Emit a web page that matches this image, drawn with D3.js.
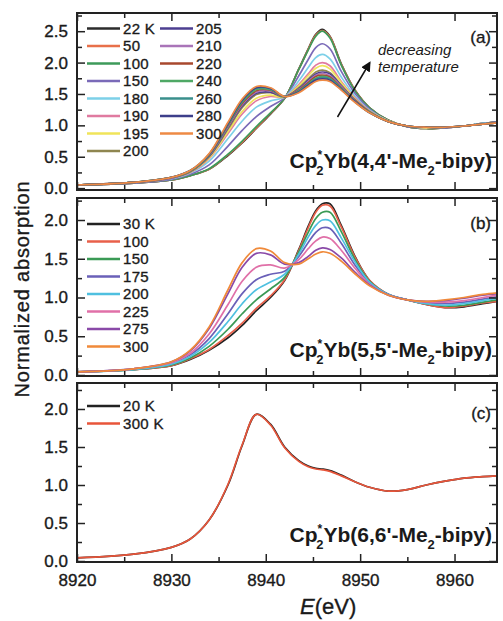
<!DOCTYPE html>
<html>
<head>
<meta charset="utf-8">
<script src="https://cdn.jsdelivr.net/npm/d3@7"></script>
<style>
  body { margin: 0; background: #fff; }
  text { font-family: "Liberation Sans", Arial, sans-serif; fill: #1a1a1a; stroke: #1a1a1a; stroke-width: 0.35px; }
</style>
</head>
<body>
<svg id="chart" width="503" height="621"></svg>
<script>
// energy grid (eV) shared by every curve
const energy = [8920, 8926, 8930, 8932, 8934, 8936, 8937.5, 8939, 8940.5, 8942, 8943.5, 8944.5, 8945.3,
  8946, 8946.8, 8948, 8949.5, 8951, 8953, 8955, 8957, 8959, 8961, 8963, 8964.5]

// (a) Cp*2Yb(4,4'-Me2-bipy)
const tempsA = ['22 K', '50', '100', '150', '180', '190', '195', '200', '205', '210', '220', '240', '260', '280', '300']
const seriesA = [
  [0.05, 0.08, 0.13, 0.20, 0.30, 0.52, 0.72, 0.95, 1.18, 1.43, 1.90, 2.22, 2.45, 2.53, 2.42, 1.98, 1.55, 1.28, 1.08, 0.98, 0.95, 0.96, 0.99, 1.03, 1.05],
  [0.05, 0.08, 0.13, 0.20, 0.30, 0.53, 0.73, 0.96, 1.19, 1.43, 1.89, 2.21, 2.44, 2.51, 2.41, 1.97, 1.55, 1.28, 1.08, 0.98, 0.95, 0.96, 0.99, 1.03, 1.05],
  [0.05, 0.08, 0.13, 0.20, 0.31, 0.54, 0.75, 0.98, 1.20, 1.43, 1.89, 2.20, 2.42, 2.50, 2.39, 1.96, 1.54, 1.28, 1.08, 0.98, 0.95, 0.96, 0.99, 1.03, 1.05],
  [0.05, 0.08, 0.14, 0.22, 0.37, 0.67, 0.92, 1.14, 1.30, 1.44, 1.79, 2.05, 2.24, 2.30, 2.22, 1.86, 1.50, 1.26, 1.07, 0.98, 0.96, 0.96, 0.99, 1.03, 1.05],
  [0.05, 0.09, 0.15, 0.24, 0.43, 0.79, 1.07, 1.29, 1.39, 1.45, 1.71, 1.92, 2.08, 2.13, 2.06, 1.77, 1.46, 1.24, 1.07, 0.99, 0.96, 0.97, 0.99, 1.03, 1.04],
  [0.05, 0.09, 0.16, 0.25, 0.47, 0.87, 1.18, 1.39, 1.46, 1.45, 1.65, 1.82, 1.96, 2.00, 1.95, 1.70, 1.43, 1.23, 1.07, 0.99, 0.96, 0.97, 0.99, 1.02, 1.04],
  [0.05, 0.09, 0.16, 0.26, 0.48, 0.90, 1.22, 1.43, 1.48, 1.45, 1.63, 1.79, 1.91, 1.95, 1.90, 1.68, 1.41, 1.22, 1.07, 0.99, 0.96, 0.97, 0.99, 1.02, 1.04],
  [0.05, 0.09, 0.16, 0.26, 0.50, 0.94, 1.28, 1.49, 1.52, 1.45, 1.60, 1.74, 1.85, 1.88, 1.84, 1.64, 1.40, 1.22, 1.06, 0.99, 0.97, 0.97, 0.99, 1.02, 1.04],
  [0.05, 0.09, 0.16, 0.27, 0.51, 0.97, 1.31, 1.51, 1.53, 1.46, 1.58, 1.72, 1.82, 1.85, 1.82, 1.63, 1.39, 1.21, 1.06, 0.99, 0.97, 0.97, 0.99, 1.02, 1.04],
  [0.05, 0.09, 0.16, 0.27, 0.52, 0.98, 1.33, 1.53, 1.55, 1.46, 1.57, 1.70, 1.80, 1.83, 1.79, 1.62, 1.38, 1.21, 1.06, 0.99, 0.97, 0.97, 0.99, 1.02, 1.04],
  [0.05, 0.09, 0.17, 0.27, 0.53, 1.00, 1.35, 1.55, 1.56, 1.46, 1.56, 1.68, 1.78, 1.80, 1.77, 1.60, 1.38, 1.21, 1.06, 0.99, 0.97, 0.97, 0.99, 1.02, 1.04],
  [0.05, 0.09, 0.17, 0.27, 0.53, 1.01, 1.37, 1.57, 1.57, 1.46, 1.55, 1.66, 1.75, 1.78, 1.75, 1.59, 1.37, 1.21, 1.06, 0.99, 0.97, 0.97, 0.99, 1.02, 1.04],
  [0.05, 0.09, 0.17, 0.28, 0.54, 1.02, 1.39, 1.59, 1.58, 1.46, 1.54, 1.65, 1.74, 1.76, 1.74, 1.58, 1.37, 1.20, 1.06, 0.99, 0.97, 0.97, 0.99, 1.02, 1.04],
  [0.05, 0.09, 0.17, 0.28, 0.54, 1.03, 1.40, 1.60, 1.59, 1.46, 1.53, 1.64, 1.72, 1.74, 1.72, 1.57, 1.37, 1.20, 1.06, 0.99, 0.97, 0.97, 0.99, 1.02, 1.04],
  [0.05, 0.09, 0.17, 0.28, 0.55, 1.05, 1.42, 1.62, 1.60, 1.46, 1.52, 1.62, 1.70, 1.72, 1.70, 1.56, 1.36, 1.20, 1.06, 0.99, 0.97, 0.97, 0.99, 1.02, 1.04]
]
const colorsA = ['#2b2b2b', '#e8704a', '#3d9a5a', '#7a6ab8', '#7dd0e8', '#e07aa0', '#f0e45a', '#8f8650',
  '#4d3f91', '#a974b8', '#a8482e', '#4fa865', '#3a8f8c', '#3d3f8a', '#ee8a44']

// (b) Cp*2Yb(5,5'-Me2-bipy)
const tempsB = ['30 K', '100', '150', '175', '200', '225', '275', '300']
const seriesB = [
  [0.04, 0.07, 0.12, 0.20, 0.32, 0.48, 0.64, 0.83, 1.00, 1.22, 1.62, 1.92, 2.12, 2.21, 2.21, 1.93, 1.52, 1.22, 1.04, 0.97, 0.91, 0.87, 0.88, 0.92, 0.95],
  [0.04, 0.07, 0.12, 0.21, 0.33, 0.51, 0.67, 0.86, 1.02, 1.23, 1.61, 1.90, 2.10, 2.19, 2.18, 1.91, 1.51, 1.22, 1.04, 0.97, 0.91, 0.87, 0.89, 0.93, 0.95],
  [0.04, 0.07, 0.13, 0.22, 0.37, 0.59, 0.79, 0.97, 1.11, 1.26, 1.59, 1.84, 2.02, 2.10, 2.10, 1.85, 1.48, 1.21, 1.04, 0.97, 0.92, 0.89, 0.90, 0.94, 0.97],
  [0.04, 0.08, 0.15, 0.26, 0.47, 0.79, 1.05, 1.23, 1.30, 1.34, 1.53, 1.71, 1.84, 1.90, 1.89, 1.70, 1.41, 1.19, 1.04, 0.97, 0.93, 0.92, 0.94, 0.98, 1.01],
  [0.04, 0.07, 0.14, 0.24, 0.42, 0.69, 0.92, 1.10, 1.20, 1.30, 1.56, 1.78, 1.93, 2.00, 1.99, 1.77, 1.45, 1.20, 1.04, 0.97, 0.92, 0.90, 0.92, 0.96, 0.99],
  [0.04, 0.08, 0.16, 0.28, 0.53, 0.91, 1.21, 1.39, 1.42, 1.38, 1.49, 1.63, 1.73, 1.78, 1.76, 1.61, 1.37, 1.17, 1.03, 0.97, 0.94, 0.94, 0.96, 1.00, 1.03],
  [0.04, 0.08, 0.17, 0.31, 0.60, 1.05, 1.39, 1.57, 1.55, 1.43, 1.45, 1.53, 1.61, 1.64, 1.62, 1.51, 1.32, 1.16, 1.03, 0.97, 0.95, 0.96, 0.99, 1.03, 1.05],
  [0.04, 0.08, 0.17, 0.32, 0.62, 1.10, 1.45, 1.63, 1.60, 1.45, 1.43, 1.50, 1.56, 1.59, 1.57, 1.47, 1.30, 1.15, 1.03, 0.97, 0.95, 0.97, 1.00, 1.04, 1.06]
]
const colorsB = ['#222222', '#e8604a', '#3a9a55', '#6a60b8', '#4fc0e0', '#e070a8', '#8a4aa8', '#f08a3a']

// (c) Cp*2Yb(6,6'-Me2-bipy)
const tempsC = ['20 K', '300 K']
const seriesC = [
  [0.04, 0.09, 0.18, 0.29, 0.54, 1.00, 1.52, 1.93, 1.80, 1.50, 1.32, 1.25, 1.22, 1.21, 1.19, 1.13, 1.04, 0.97, 0.92, 0.94, 1.00, 1.05, 1.09, 1.11, 1.12],
  [0.04, 0.09, 0.18, 0.29, 0.54, 1.01, 1.53, 1.93, 1.79, 1.49, 1.31, 1.24, 1.21, 1.20, 1.18, 1.12, 1.04, 0.97, 0.92, 0.94, 1.00, 1.05, 1.09, 1.11, 1.12]
]
const colorsC = ['#222222', '#e8553a']

const xMajor = [8920, 8930, 8940, 8950, 8960]
const xMinor = [8925, 8935, 8945, 8955]

const svg = d3.select('#chart')
const x = d3.scaleLinear().domain([8920, 8964.5]).range([77, 497])

const panels = [
  { top: 13, bottom: 190, domain: [-0.03, 2.79], yMajor: [0, 0.5, 1, 1.5, 2, 2.5], yMinor: [0.25, 0.75, 1.25, 1.75, 2.25, 2.75],
    temps: tempsA, series: seriesA, colors: colorsA, tag: '(a)', tagY: 43, name: "4,4'", nameY: 168, legendY: 28.5, legendRows: 8 },
  { top: 198, bottom: 376, domain: [-0.013, 2.284], yMajor: [0, 0.5, 1, 1.5, 2], yMinor: [0.25, 0.75, 1.25, 1.75, 2.25],
    temps: tempsB, series: seriesB, colors: colorsB, tag: '(b)', tagY: 229, name: "5,5'", nameY: 357, legendY: 224, legendRows: 8 },
  { top: 383, bottom: 562, domain: [-0.013, 2.342], yMajor: [0, 0.5, 1, 1.5, 2], yMinor: [0.25, 0.75, 1.25, 1.75, 2.25],
    temps: tempsC, series: seriesC, colors: colorsC, tag: '(c)', tagY: 419, name: "6,6'", nameY: 542, legendY: 406, legendRows: 8 }
]

const defs = svg.append('defs')
defs.append('marker')
  .attr('id', 'head')
  .attr('viewBox', '0 0 10 10')
  .attr('refX', 8).attr('refY', 5)
  .attr('markerWidth', 10).attr('markerHeight', 10)
  .attr('markerUnits', 'userSpaceOnUse')
  .attr('orient', 'auto')
  .append('path').attr('d', 'M0,0L10,5L0,10Z').attr('fill', '#111')

panels.forEach((p, i) => {
  const y = d3.scaleLinear().domain(p.domain).range([p.bottom, p.top])
  const g = svg.append('g')

  defs.append('clipPath').attr('id', 'clip' + i)
    .append('rect').attr('x', x.range()[0]).attr('y', p.top)
    .attr('width', x.range()[1] - x.range()[0]).attr('height', p.bottom - p.top)

  // curves
  const line = d3.line()
    .x((d, k) => x(energy[k]))
    .y(d => y(d))
    .curve(d3.curveCatmullRom.alpha(0.5))

  g.append('g').attr('clip-path', `url(#clip${i})`)
    .selectAll('path')
    .data(p.series)
    .join('path')
    .attr('d', line)
    .attr('fill', 'none')
    .attr('stroke', (d, k) => p.colors[k])
    .attr('stroke-width', 1.7)

  // ticks on all four sides, pointing in
  const tickStyle = (sel) => {
    sel.select('.domain').remove()
    sel.selectAll('line').attr('stroke', '#222').attr('stroke-width', 1.5)
  }
  g.append('g').attr('transform', `translate(0,${p.bottom})`)
    .call(d3.axisBottom(x).tickValues(xMajor).tickSize(-8).tickPadding(12)
      .tickFormat(i === 2 ? d3.format('d') : () => ''))
    .call(tickStyle)
  g.append('g').attr('transform', `translate(0,${p.bottom})`)
    .call(d3.axisBottom(x).tickValues(xMinor).tickSize(-5).tickFormat(''))
    .call(tickStyle)
  g.append('g').attr('transform', `translate(0,${p.top})`)
    .call(d3.axisTop(x).tickValues(xMajor).tickSize(-8).tickFormat(''))
    .call(tickStyle)
  g.append('g').attr('transform', `translate(0,${p.top})`)
    .call(d3.axisTop(x).tickValues(xMinor).tickSize(-5).tickFormat(''))
    .call(tickStyle)
  g.append('g').attr('transform', `translate(${x.range()[0]},0)`)
    .call(d3.axisLeft(y).tickValues(p.yMajor).tickSize(-8).tickPadding(9).tickFormat(d3.format('.1f')))
    .call(tickStyle)
  g.append('g').attr('transform', `translate(${x.range()[0]},0)`)
    .call(d3.axisLeft(y).tickValues(p.yMinor).tickSize(-5).tickFormat(''))
    .call(tickStyle)
  g.append('g').attr('transform', `translate(${x.range()[1]},0)`)
    .call(d3.axisRight(y).tickValues(p.yMajor).tickSize(-8).tickFormat(''))
    .call(tickStyle)
  g.append('g').attr('transform', `translate(${x.range()[1]},0)`)
    .call(d3.axisRight(y).tickValues(p.yMinor).tickSize(-5).tickFormat(''))
    .call(tickStyle)
  g.selectAll('.tick text')
    .attr('font-family', '"Liberation Sans", Arial, sans-serif')
    .attr('font-size', 17)
    .attr('fill', '#1a1a1a')

  // frame
  g.append('rect')
    .attr('x', x.range()[0]).attr('y', p.top)
    .attr('width', x.range()[1] - x.range()[0]).attr('height', p.bottom - p.top)
    .attr('fill', 'none').attr('stroke', '#222').attr('stroke-width', 2)

  // legend, filled down the first column then the second
  const leg = g.append('g')
  p.temps.forEach((t, k) => {
    const col = Math.floor(k / p.legendRows)
    const row = k % p.legendRows
    const lx = 87 + col * 73
    const ly = p.legendY + row * 17.5
    leg.append('line')
      .attr('x1', lx).attr('x2', lx + 33).attr('y1', ly).attr('y2', ly)
      .attr('stroke', p.colors[k]).attr('stroke-width', 2.5)
    leg.append('text')
      .attr('x', lx + 36).attr('y', ly).attr('dy', '0.36em')
      .attr('font-size', 15).attr('letter-spacing', 0.3)
      .text(t)
  })

  // panel tag and compound name
  g.append('text')
    .attr('x', 491).attr('y', p.tagY).attr('text-anchor', 'end')
    .attr('font-size', 17)
    .text(p.tag)

  const nm = g.append('text')
    .attr('x', 492).attr('y', p.nameY).attr('text-anchor', 'end')
    .attr('font-size', 21).attr('font-weight', 'bold').style('stroke-width', 0)
  nm.append('tspan').text('Cp')
  nm.append('tspan').attr('dy', -9).attr('font-size', 12).text('*')
  nm.append('tspan').attr('dx', -6).attr('dy', 16).attr('font-size', 13).text('2')
  nm.append('tspan').attr('dy', -7).text(`Yb(${p.name}-Me`)
  nm.append('tspan').attr('dy', 7).attr('font-size', 13).text('2')
  nm.append('tspan').attr('dy', -7).text('-bipy)')
})

// temperature arrow in panel (a)
svg.append('line')
  .attr('x1', x(8947.6)).attr('y1', 117)
  .attr('x2', x(8951)).attr('y2', 63)
  .attr('stroke', '#111').attr('stroke-width', 1.5)
  .attr('marker-end', 'url(#head)')

svg.append('text')
  .attr('x', 378).attr('y', 55)
  .attr('font-size', 15).attr('font-style', 'italic').style('stroke-width', 0)
  .text('decreasing')
svg.append('text')
  .attr('x', 378).attr('y', 72)
  .attr('font-size', 15).attr('font-style', 'italic').style('stroke-width', 0)
  .text('temperature')

// axis titles
svg.append('text')
  .attr('transform', 'translate(29,289) rotate(-90)')
  .attr('text-anchor', 'middle')
  .attr('font-size', 20).attr('letter-spacing', 0.8)
  .text('Normalized absorption')

const xt = svg.append('text')
  .attr('x', 300).attr('y', 614)
  .attr('font-size', 22)
xt.append('tspan').attr('font-style', 'italic').text('E')
xt.append('tspan').text('(eV)')
</script>
</body>
</html>
